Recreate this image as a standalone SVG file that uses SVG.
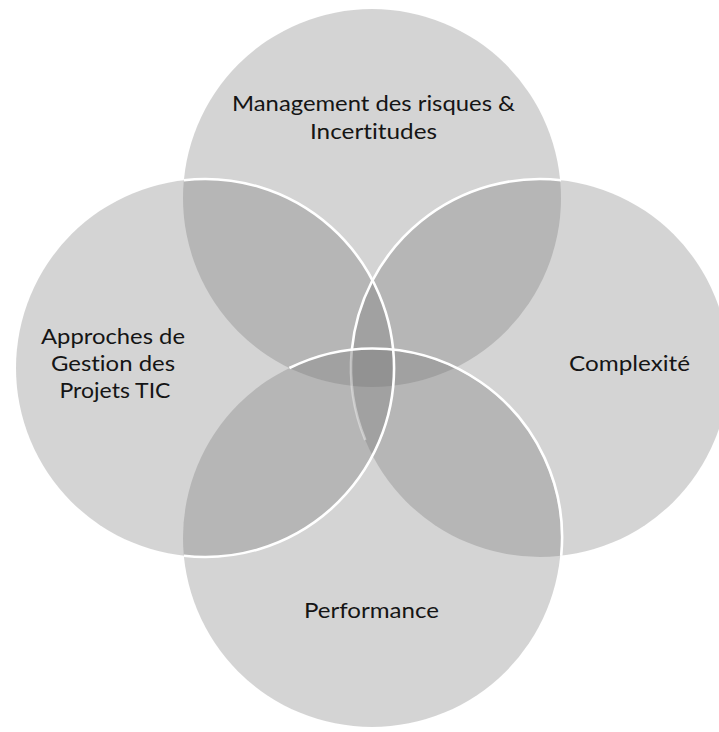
<svg xmlns="http://www.w3.org/2000/svg" width="719" height="732" viewBox="0 0 719 732">
  <style>
    .c { fill: #707070; fill-opacity: 0.3; stroke: none; }
    .t { font-family: Lato, "Open Sans", "Liberation Sans", sans-serif; font-size: 22px; fill: #151515; text-anchor: middle; font-variant-ligatures: none; font-feature-settings: "liga" 0, "clig" 0; }
    .w { fill: none; stroke: #ffffff; stroke-width: 2.6; }
  </style>
  <rect width="719" height="732" fill="#ffffff"/>
  <g id="node-management">
    <circle class="c" cx="372" cy="198" r="189"/>
    <text class="t" x="373.5" y="111" textLength="283" lengthAdjust="spacingAndGlyphs">Management des risques &amp;</text>
    <text class="t" x="373.5" y="139" textLength="127" lengthAdjust="spacingAndGlyphs">Incertitudes</text>
  </g>
  <g id="node-approches">
    <circle class="c" cx="205" cy="368" r="189"/>
    <text class="t" x="113" y="344" textLength="144" lengthAdjust="spacingAndGlyphs">Approches de</text>
    <text class="t" x="113" y="371" textLength="124" lengthAdjust="spacingAndGlyphs">Gestion des</text>
    <text class="t" x="115" y="398" textLength="111" lengthAdjust="spacingAndGlyphs">Projets TIC</text>
  </g>
  <g id="node-complexite">
    <circle class="c" cx="540" cy="368" r="189"/>
    <text class="t" x="629.5" y="371" textLength="121" lengthAdjust="spacingAndGlyphs">Complexité</text>
  </g>
  <g id="node-performance">
    <circle class="c" cx="372" cy="538" r="189"/>
    <text class="t" x="371.5" y="618" textLength="135" lengthAdjust="spacingAndGlyphs">Performance</text>
  </g>
  <g id="outlines">
    <path class="w" d="M183.8,180.2 A189,189 0 1 1 183.8,555.8"/>
    <path class="w" d="M561.2,180.2 A189,189 0 0 0 351.8,350.2"/>
    <path class="w" d="M351.8,350.2 A189,189 0 0 0 365.3,440" stroke-opacity="0.4"/>
    <path class="w" d="M289.4,368 A189,189 0 0 1 561.2,555.8"/>
  </g>
</svg>
